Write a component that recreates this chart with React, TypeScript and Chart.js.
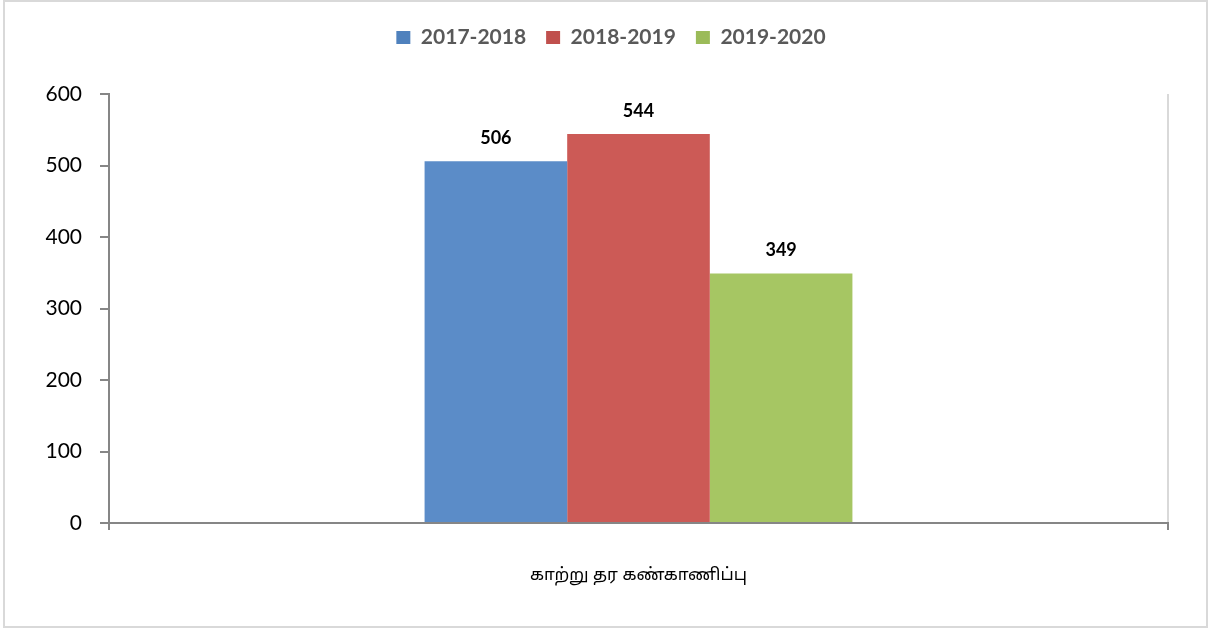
import React, { useEffect, useRef } from "react";
import { Chart, registerables } from "chart.js";

Chart.register(...registerables);

const categories = ["காற்று தர கண்காணிப்பு"];
const seriesNames = ["2017-2018", "2018-2019", "2019-2020"];
const values2017 = [506];
const values2018 = [544];
const values2019 = [349];
const barColors = ["#5b8cc8", "#cc5a56", "#a6c663"];
const legendColors = ["#4f81bd", "#c0504d", "#9bbb59"];
const yTicks = [0, 100, 200, 300, 400, 500, 600];

const FONT = "Lato, 'Open Sans', 'Liberation Sans', sans-serif";

const valueLabels = {
  id: "valueLabels",
  afterDatasetsDraw(chart: any) {
    const ctx = chart.ctx;
    ctx.save();
    ctx.font = `bold 18px ${FONT}`;
    ctx.fillStyle = "#000";
    ctx.textAlign = "center";
    ctx.textBaseline = "bottom";
    chart.data.datasets.forEach((ds: any, i: number) => {
      const meta = chart.getDatasetMeta(i);
      meta.data.forEach((bar: any, j: number) => {
        ctx.fillText(String(ds.data[j]), bar.x, bar.y - 14);
      });
    });
    ctx.restore();
  },
};

const legendSpacer = {
  id: "legendSpacer",
  beforeLayout(chart: any) {
    const legend = chart.legend;
    if (legend && !legend._spaced) {
      legend._spaced = true;
      const origFit = legend.fit;
      legend.fit = function (...args: any[]) {
        origFit.apply(this, args);
        this.height += 36;
      };
    }
  },
  afterLayout(chart: any) {
    const legend = chart.legend;
    if (legend) {
      legend.left += 27;
      legend.right += 27;
    }
  },
};

export default function App() {
  const ref = useRef<HTMLCanvasElement>(null);
  useEffect(() => {
    if (!ref.current) return;
    const seriesData = [values2017, values2018, values2019];
    const chart = new Chart(ref.current, {
      type: "bar",
      data: {
        labels: categories,
        datasets: seriesNames.map((name, i) => ({
          label: name,
          data: seriesData[i],
          backgroundColor: barColors[i],
          borderWidth: 0,
          barPercentage: 1,
          categoryPercentage: 0.404,
        })),
      },
      options: {
        responsive: false,
        animation: false,
        layout: { padding: { top: 7, right: 42, bottom: 0, left: 0 } },
        plugins: {
          tooltip: { enabled: false },
          legend: {
            position: "top",
            labels: {
              boxWidth: 14,
              boxHeight: 13,
              padding: 20,
              color: "#595959",
              font: { family: FONT, size: 21, weight: "bold" },
              generateLabels: (chart: any) => {
                const items = Chart.defaults.plugins.legend.labels.generateLabels(chart);
                items.forEach((it: any, i: number) => {
                  it.fillStyle = legendColors[i];
                  it.strokeStyle = legendColors[i];
                  it.lineWidth = 0;
                });
                return items;
              },
            },
          },
        },
        scales: {
          x: {
            offset: true,
            grid: {
              offset: true,
              drawOnChartArea: true,
              color: "#d9d9d9",
              tickColor: "#868686",
              tickLength: 7,
              lineWidth: 2,
            },
            border: { color: "#868686", width: 2 },
            ticks: {
              color: "#000",
              padding: 36,
              font: { family: "'Noto Sans Tamil', 'Lohit Tamil', 'Noto Sans', sans-serif", size: 17 },
            },
            afterFit: (scale: any) => {
              scale.height = 107;
            },
          },
          y: {
            min: 0,
            max: 600,
            afterBuildTicks: (scale: any) => {
              scale.ticks = yTicks.map((v) => ({ value: v }));
            },
            grid: {
              drawOnChartArea: false,
              tickColor: "#868686",
              tickLength: 9,
              lineWidth: 2,
            },
            border: { color: "#868686", width: 2 },
            ticks: {
              color: "#000",
              padding: 18,
              font: { family: FONT, size: 21 },
            },
            afterFit: (scale: any) => {
              scale.width = 109;
            },
          },
        },
      },
      plugins: [valueLabels, legendSpacer],
    });
    return () => chart.destroy();
  }, []);

  return (
    <div style={{ position: "fixed", left: 0, top: 0, width: 1210, height: 630, background: "#fff" }}>
      <canvas ref={ref} width={1210} height={630} style={{ position: "absolute", left: 0, top: 0 }} />
      <div
        style={{
          position: "absolute",
          left: 3,
          top: 0,
          width: 1205,
          height: 628,
          border: "2px solid #d9d9d9",
          boxSizing: "border-box",
          pointerEvents: "none",
        }}
      />
    </div>
  );
}
